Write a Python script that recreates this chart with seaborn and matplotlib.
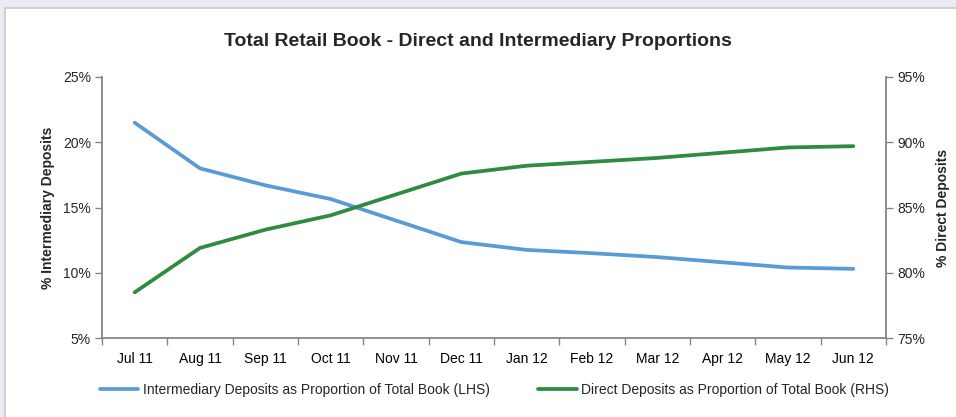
import matplotlib
matplotlib.use("Agg")
import matplotlib.pyplot as plt
from matplotlib.patches import Rectangle
from matplotlib.ticker import FuncFormatter, FixedLocator
import seaborn as sns
import pandas as pd
import numpy as np

# data
months = ["Jul 11", "Aug 11", "Sep 11", "Oct 11", "Nov 11", "Dec 11",
          "Jan 12", "Feb 12", "Mar 12", "Apr 12", "May 12", "Jun 12"]
intermediary = [21.5, 18.0, 16.7, 15.65, 14.0, 12.35, 11.75, 11.5, 11.2, 10.8, 10.4, 10.3]
direct = [78.5, 81.9, 83.3, 84.4, 86.0, 87.6, 88.2, 88.5, 88.8, 89.2, 89.6, 89.7]

lhs_label = "Intermediary Deposits as Proportion of Total Book (LHS)"
rhs_label = "Direct Deposits as Proportion of Total Book (RHS)"

blue = "#5b9bd5"
green = "#2e8b3f"
grey = "#868686"

sns.set_theme(style="white")
plt.rcParams['font.family'] = ['Liberation Sans Narrow', 'Liberation Sans', 'DejaVu Sans']

df = pd.DataFrame({"month": months, "inter": intermediary, "direct": direct})

fig = plt.figure(figsize=(9.56, 4.17), dpi=100)
fig.patch.set_facecolor("#e9edf3")
fig.patches.append(Rectangle((5 / 956, -0.1), 1.0, 1 - 8 / 417 + 0.1,
                             transform=fig.transFigure, facecolor="white",
                             edgecolor="#c8c8c8", linewidth=1.2, zorder=-10))

ax = fig.add_axes([102 / 956, 1 - 338 / 417, (886 - 102) / 956, (338 - 77) / 417])
ax.set_facecolor("none")
ax2 = ax.twinx()
ax2.set_facecolor("none")

sns.lineplot(data=df, x="month", y="inter", ax=ax, color=blue, linewidth=2.7,
             sort=False, label=lhs_label, legend=False)
sns.lineplot(data=df, x="month", y="direct", ax=ax2, color=green, linewidth=2.7,
             sort=False, label=rhs_label, legend=False)

ax.set_xlim(-0.5, len(months) - 0.5)
ax.set_ylim(5, 25)
ax2.set_ylim(75, 95)
ax.set_yticks(np.arange(5, 26, 5))
ax2.set_yticks(np.arange(75, 96, 5))
pct = FuncFormatter(lambda v, p: f"{v:.0f}%")
ax.yaxis.set_major_formatter(pct)
ax2.yaxis.set_major_formatter(pct)

ax.set_xticks(range(len(months)))
ax.set_xticklabels(months)
ax.xaxis.set_minor_locator(FixedLocator(np.arange(-0.5, len(months), 1)))
ax.tick_params(axis="x", which="major", length=0, pad=10, labelsize=10, colors="black")
ax.tick_params(axis="x", which="minor", length=5, width=1, color=grey, direction="out", bottom=True)
ax.tick_params(axis="y", length=5, width=1, color=grey, direction="out", labelsize=10, pad=3, left=True)
ax2.tick_params(axis="y", length=5, width=1, color=grey, direction="out", labelsize=10, pad=3, right=True)

for a in (ax, ax2):
    for s in a.spines.values():
        s.set_color(grey)
        s.set_linewidth(1.3)
    a.spines["top"].set_visible(False)
    a.set_xlabel("")
ax.spines["right"].set_visible(False)
ax2.spines["left"].set_visible(False)
ax2.spines["bottom"].set_visible(False)

ax.set_ylabel("% Intermediary Deposits", fontsize=10, fontweight="bold", labelpad=6)
ax2.set_ylabel("% Direct Deposits", fontsize=10, fontweight="bold", labelpad=8)

fig.text(0.5, 1 - 42 / 417, "Total Retail Book - Direct and Intermediary Proportions",
         ha="center", va="center", fontsize=14, fontweight="bold")

h1, l1 = ax.get_legend_handles_labels()
h2, l2 = ax2.get_legend_handles_labels()
fig.legend(h1 + h2, l1 + l2, loc="center", bbox_to_anchor=(0.517, 1 - 390 / 417),
           ncol=2, frameon=False, fontsize=10, handlelength=2.8, handletextpad=0.3,
           columnspacing=3.5)

fig.savefig("out.png", dpi=100)
